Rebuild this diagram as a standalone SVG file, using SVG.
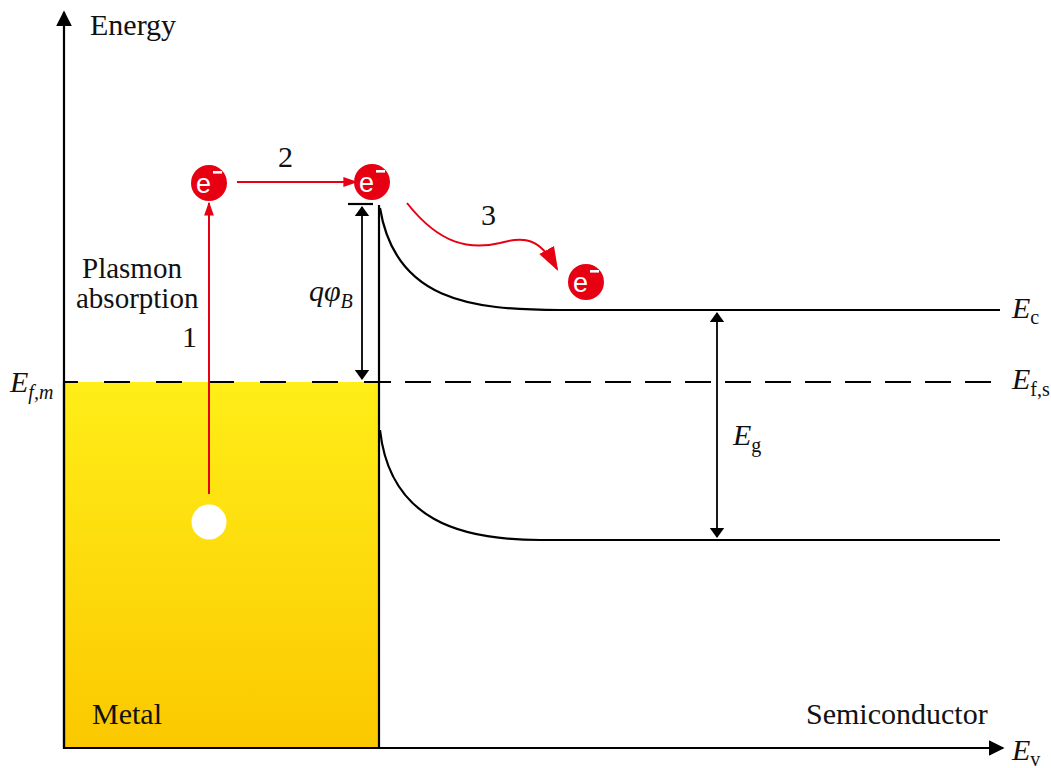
<svg xmlns="http://www.w3.org/2000/svg" width="1051" height="768" viewBox="0 0 1051 768">
<defs>
<linearGradient id="metalGrad" x1="0" y1="0" x2="0" y2="1">
<stop offset="0" stop-color="#FFEE18"/>
<stop offset="1" stop-color="#FBC800"/>
</linearGradient>
<marker id="axis" viewBox="0 0 10 10" refX="9" refY="5" markerWidth="16" markerHeight="16" markerUnits="userSpaceOnUse" orient="auto">
<path d="M0,0 L10,5 L0,10 z" fill="#000"/>
</marker>
<marker id="dbl" viewBox="0 0 10 10" refX="9" refY="5" markerWidth="10" markerHeight="24" markerUnits="userSpaceOnUse" orient="auto-start-reverse" preserveAspectRatio="none">
<path d="M0,2 L10,5 L0,8 z" fill="#000"/>
</marker>
<marker id="red" viewBox="0 0 10 10" refX="9" refY="5" markerWidth="14" markerHeight="14" markerUnits="userSpaceOnUse" orient="auto">
<path d="M0,1.5 L10,5 L0,8.5 z" fill="#E60012"/>
</marker>
<marker id="redBig" viewBox="0 0 10 10" refX="9" refY="5" markerWidth="24" markerHeight="24" markerUnits="userSpaceOnUse" orient="auto">
<path d="M0,1.5 L10,5 L0,8.5 z" fill="#E60012"/>
</marker>
</defs>
<style>
.ln{stroke:#000;stroke-width:2.2;fill:none}
.rl{stroke:#E60012;stroke-width:2;fill:none}
.e{fill:#E60012}
.et{font-family:"Liberation Sans",Arial,sans-serif;font-size:27px;fill:#fff}
.s{font-family:"Liberation Serif","Times New Roman",serif}
</style>

<g id="metal">
<rect x="64" y="382" width="315" height="366" fill="url(#metalGrad)"/>
<path d="M64,382 L64,748 L379,748" stroke="#000" stroke-width="2.2" fill="none"/>
<text class="s" x="92" y="724" font-size="30" fill="#111">Metal</text>
</g>

<g id="connectors">
<line class="ln" x1="64" y1="748" x2="64" y2="12" marker-end="url(#axis)"/>
<line class="ln" x1="64" y1="748" x2="1003" y2="748" marker-end="url(#axis)"/>
<line class="ln" x1="64" y1="382" x2="365" y2="382" stroke-dasharray="26,26" stroke-dashoffset="12"/>
<line class="ln" x1="365" y1="382" x2="1000" y2="382" stroke-dasharray="26,14"/>
<line class="ln" x1="379" y1="205" x2="379" y2="748"/>
<path class="ln" d="M380,208 C395,300 470,310 560,310 L1000,310"/>
<path class="ln" d="M380,430 C390,520 460,540 540,540 L1000,540"/>
<line class="ln" x1="348" y1="204" x2="373" y2="204"/>
<line x1="362" y1="207" x2="362" y2="379" stroke="#000" stroke-width="1.8" marker-start="url(#dbl)" marker-end="url(#dbl)"/>
<line x1="717" y1="313" x2="717" y2="537" stroke="#000" stroke-width="1.8" marker-start="url(#dbl)" marker-end="url(#dbl)"/>
<line class="rl" x1="209" y1="494" x2="209" y2="203" marker-end="url(#red)"/>
<line class="rl" x1="237" y1="182" x2="356" y2="182" marker-end="url(#red)"/>
<path class="rl" d="M407,203 C440,245 470,250 500,243 C525,236 540,238 557,269" marker-end="url(#redBig)"/>
</g>

<g id="e1"><circle class="e" cx="209" cy="183" r="18"/><text class="et" x="196" y="193">e</text><rect x="213" y="171" width="9" height="2.6" fill="#fff"/></g>
<g id="e2"><circle class="e" cx="372" cy="182" r="18"/><text class="et" x="359" y="192">e</text><rect x="376" y="170" width="9" height="2.6" fill="#fff"/></g>
<g id="e3"><circle class="e" cx="586" cy="282" r="18"/><text class="et" x="573" y="292">e</text><rect x="590" y="270" width="9" height="2.6" fill="#fff"/></g>
<g id="hole"><circle cx="209" cy="522" r="17.5" fill="#fff"/></g>

<g id="labels" class="s" font-size="30" fill="#111">
<text x="90" y="35">Energy</text>
<text x="82" y="278" font-size="29">Plasmon</text>
<text x="76" y="308" font-size="29">absorption</text>
<text x="182" y="347">1</text>
<text x="278" y="167">2</text>
<text x="481" y="225">3</text>
<text x="806" y="724">Semiconductor</text>
<g font-style="italic" font-size="30">
<text x="309" y="301">qφ<tspan font-size="20" dy="7">B</tspan></text>
<text x="10" y="392">E<tspan font-size="20" dy="7">f,m</tspan></text>
<text x="1012" y="318">E<tspan font-size="20" dy="6" font-style="normal">c</tspan></text>
<text x="1012" y="389">E<tspan font-size="20" dy="7" font-style="normal">f,s</tspan></text>
<text x="733" y="445">E<tspan font-size="20" dy="7" font-style="normal">g</tspan></text>
<text x="1012" y="760">E<tspan font-size="20" dy="6" font-style="normal">v</tspan></text>
</g>
</g>
</svg>
